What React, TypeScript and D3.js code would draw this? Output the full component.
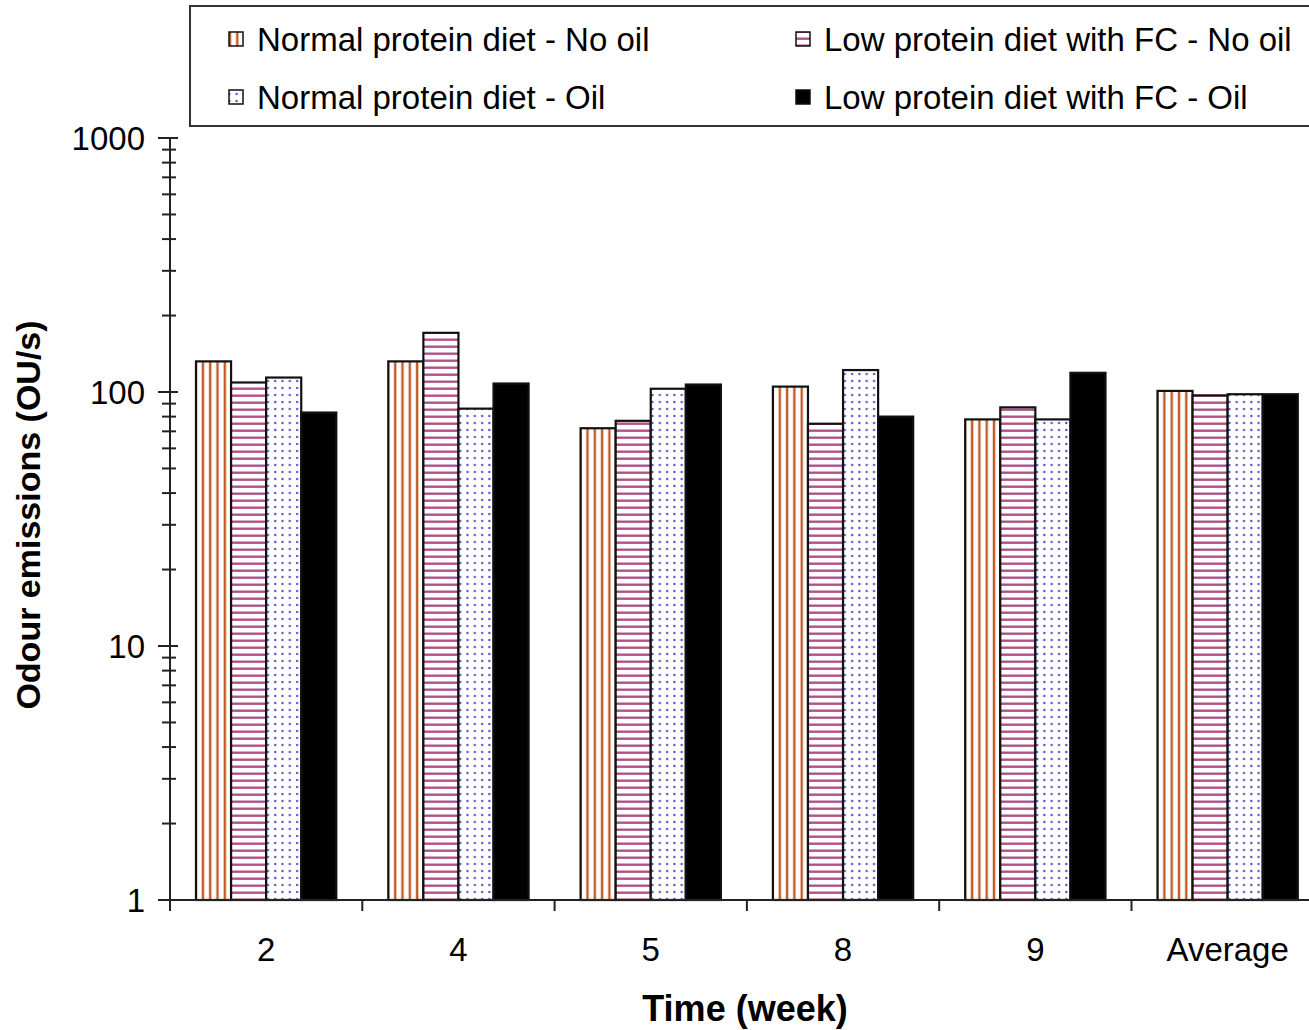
import { useEffect, useRef } from 'react';
import * as d3 from 'd3';

const weeks = ['2', '4', '5', '8', '9', 'Average'];
const seriesNames = [
  'Normal protein diet - No oil',
  'Low protein diet with FC - No oil',
  'Normal protein diet - Oil',
  'Low protein diet with FC - Oil',
];
// odour emissions (OU/s) per series, one value per week
const normalNoOil = [132, 132, 72, 105, 78, 101];
const lowFcNoOil = [109, 171, 77, 75, 87, 97];
const normalOil = [114, 86, 103, 122, 78, 98];
const lowFcOil = [83, 108, 107, 80, 119, 98];
const yTicks = [1, 10, 100, 1000];

const fills = ['url(#vstripe)', 'url(#hstripe)', 'url(#dots)', '#000'];

function App() {
  const svgRef = useRef<SVGSVGElement>(null);

  const createGraph = () => {
    const width = 1309,
      height = 1030;
    const left = 170,
      bottom = 900,
      top = 138,
      step = 192.3;

    const svg = d3.select(svgRef.current);
    svg.selectAll('*').remove();
    svg.attr('width', width).attr('height', height);
    svg.style('font-family', 'Liberation Sans, Arial, sans-serif');

    const defs = svg.append('defs');
    const vs = defs
      .append('pattern')
      .attr('id', 'vstripe')
      .attr('patternUnits', 'userSpaceOnUse')
      .attr('width', 7.3)
      .attr('height', 10);
    vs.append('rect').attr('width', 7.3).attr('height', 10).attr('fill', '#fff');
    vs.append('rect').attr('x', 2.5).attr('width', 2.4).attr('height', 10).attr('fill', '#c25a26');

    const hs = defs
      .append('pattern')
      .attr('id', 'hstripe')
      .attr('patternUnits', 'userSpaceOnUse')
      .attr('width', 10)
      .attr('height', 7);
    hs.append('rect').attr('width', 10).attr('height', 7).attr('fill', '#fff');
    hs.append('rect').attr('y', 2.5).attr('width', 10).attr('height', 2.4).attr('fill', '#b05288');

    const dp = defs
      .append('pattern')
      .attr('id', 'dots')
      .attr('patternUnits', 'userSpaceOnUse')
      .attr('width', 7.3)
      .attr('height', 7);
    dp.append('rect').attr('width', 7.3).attr('height', 7).attr('fill', '#fff');
    dp.append('circle').attr('cx', 3).attr('cy', 3).attr('r', 1.2).attr('fill', '#5555cc');

    let x = d3
      .scaleBand()
      .domain(weeks)
      .range([left, left + step * weeks.length])
      .padding(0);
    let inner = d3
      .scaleBand()
      .domain(seriesNames)
      .range([26, step - 26])
      .padding(0);
    let y = d3.scaleLog().domain([1, 1000]).range([bottom, top]);

    const data = [normalNoOil, lowFcNoOil, normalOil, lowFcOil];

    // bars
    weeks.forEach((w, i) => {
      const g = svg.append('g').attr('transform', `translate(${x(w)},0)`);
      seriesNames.forEach((s, j) => {
        const v = data[j][i];
        g.append('rect')
          .attr('x', inner(s)!)
          .attr('y', y(v))
          .attr('width', inner.bandwidth())
          .attr('height', bottom - y(v))
          .attr('fill', fills[j])
          .attr('stroke', '#111')
          .attr('stroke-width', 2.2);
      });
    });

    // y axis
    const yAxis = svg.append('g');
    yAxis
      .append('line')
      .attr('x1', left)
      .attr('x2', left)
      .attr('y1', top)
      .attr('y2', bottom)
      .attr('stroke', '#222')
      .attr('stroke-width', 2);
    const minor: number[] = [];
    [1, 10, 100].forEach((d) => {
      for (let k = 2; k <= 9; k++) minor.push(d * k);
    });
    minor.forEach((v) => {
      yAxis
        .append('line')
        .attr('x1', left - 8)
        .attr('x2', left + 6)
        .attr('y1', y(v))
        .attr('y2', y(v))
        .attr('stroke', '#222')
        .attr('stroke-width', 2);
    });
    yTicks.forEach((v) => {
      yAxis
        .append('line')
        .attr('x1', left - 12)
        .attr('x2', left + 8)
        .attr('y1', y(v))
        .attr('y2', y(v))
        .attr('stroke', '#222')
        .attr('stroke-width', 2);
      yAxis
        .append('text')
        .attr('x', left - 25)
        .attr('y', y(v))
        .attr('dy', '0.36em')
        .attr('text-anchor', 'end')
        .attr('font-size', 33)
        .text(v);
    });

    // x axis
    const xAxis = svg.append('g');
    xAxis
      .append('line')
      .attr('x1', left - 12)
      .attr('x2', width)
      .attr('y1', bottom)
      .attr('y2', bottom)
      .attr('stroke', '#222')
      .attr('stroke-width', 2);
    weeks.forEach((w) => {
      xAxis
        .append('line')
        .attr('x1', x(w)!)
        .attr('x2', x(w)!)
        .attr('y1', bottom)
        .attr('y2', bottom + 11)
        .attr('stroke', '#222')
        .attr('stroke-width', 2);
      xAxis
        .append('text')
        .attr('x', x(w)! + x.bandwidth() / 2)
        .attr('y', 961)
        .attr('text-anchor', 'middle')
        .attr('font-size', 33)
        .text(w);
    });

    // axis titles
    svg
      .append('text')
      .attr('x', 745)
      .attr('y', 1021)
      .attr('text-anchor', 'middle')
      .attr('font-size', 36)
      .attr('font-weight', 'bold')
      .text('Time (week)');
    svg
      .append('text')
      .attr('transform', `translate(40,515) rotate(-90)`)
      .attr('text-anchor', 'middle')
      .attr('font-size', 34)
      .attr('font-weight', 'bold')
      .text('Odour emissions (OU/s)');

    // legend
    const lg = svg.append('g');
    lg.append('rect')
      .attr('x', 190)
      .attr('y', 6)
      .attr('width', 1150)
      .attr('height', 120)
      .attr('fill', '#fff')
      .attr('stroke', '#333')
      .attr('stroke-width', 2);
    const pos = [
      [229, 39],
      [796, 39],
      [229, 97],
      [796, 97],
    ];
    seriesNames.forEach((s, j) => {
      const [lx, ly] = pos[j];
      lg.append('rect')
        .attr('x', lx)
        .attr('y', ly - 7)
        .attr('width', 14)
        .attr('height', 14)
        .attr('fill', fills[j])
        .attr('stroke', '#111')
        .attr('stroke-width', 1.5);
      lg.append('text')
        .attr('x', lx + 28)
        .attr('y', ly)
        .attr('dy', '0.36em')
        .attr('font-size', 33)
        .text(s);
    });
  };

  useEffect(() => {
    createGraph();
  }, []);

  return (
    <div>
      <svg ref={svgRef} style={{ position: 'absolute', left: 0, top: 0, background: '#fff' }}></svg>
    </div>
  );
}

export default App;
